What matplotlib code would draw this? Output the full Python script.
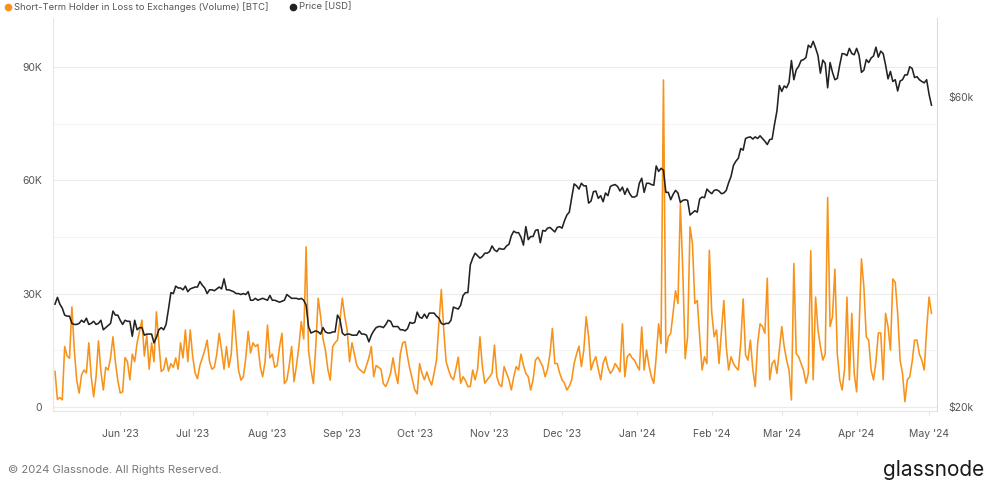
import pandas as pd
import matplotlib
matplotlib.use('Agg')
import matplotlib.pyplot as plt
from matplotlib.lines import Line2D
from matplotlib.ticker import FixedLocator, NullFormatter

plt.rcParams['font.family'] = ['Inter', 'DejaVu Sans']

# === Data (daily values)
start_date = '2023-05-05'

# Short-Term Holder in Loss to Exchanges, thousands of BTC
stlh_volume_k = [
    9.4, 2.0, 2.5, 1.9, 16.0, 13.5, 12.9, 26.5, 15.0, 7.0, 3.7, 8.5, 9.8, 9.0, 17.0, 8.0, 2.7, 8.0, 17.5, 9.5, 4.5, 10.5, 9.8, 13.0, 18.6, 12.0, 7.0, 3.7,
    4.0, 13.1, 12.0, 7.2, 14.0, 12.0, 17.0, 20.0, 23.0, 13.5, 19.0, 10.0, 17.0, 12.0, 25.2, 17.0, 9.4, 10.0, 13.0, 9.5, 11.5, 10.5, 13.0, 10.0, 17.0, 13.0, 20.4, 12.0, 20.4,
    13.5, 9.0, 7.5, 11.0, 13.0, 15.0, 17.7, 12.0, 10.0, 10.5, 14.0, 19.5, 15.0, 10.0, 16.0, 10.5, 14.0, 25.6, 17.7, 9.8, 7.1, 8.0, 13.0, 20.0, 14.3, 17.0, 16.0, 16.6, 10.7, 8.0, 12.0,
    21.7, 13.0, 14.0, 10.5, 11.0, 16.0, 19.5, 6.2, 7.1, 11.0, 16.0, 6.7, 11.0, 16.0, 22.6, 18.0, 42.4, 15.0, 10.0, 6.2, 16.0, 28.8, 24.0, 18.0, 15.0, 10.0, 7.1, 16.0, 17.0, 17.7, 23.0,
    28.8, 24.0, 20.4, 12.0, 17.0, 14.0, 11.0, 10.0, 9.5, 9.0, 11.0, 13.0, 16.0, 8.0, 11.0, 10.5, 10.0, 6.2, 5.4, 7.0, 9.0, 13.0, 9.0, 6.2, 14.0, 17.0, 17.3, 13.3, 10.0, 7.2,
    4.5, 3.5, 11.5, 8.9, 7.2, 9.3, 7.2, 5.8, 9.0, 12.4, 22.1, 31.1, 20.4, 12.0, 9.8, 8.0, 7.2, 10.0, 13.2, 6.3, 8.0, 7.0, 5.4, 5.4, 9.8, 7.2, 10.0, 18.6, 10.7, 6.3, 7.2,
    8.0, 9.0, 16.4, 8.0, 6.0, 5.4, 10.7, 9.0, 7.2, 4.5, 8.0, 10.7, 9.8, 14.0, 11.0, 8.9, 8.0, 4.5, 7.2, 12.4, 13.2, 12.0, 10.7, 8.0, 10.0, 14.1, 20.8, 11.5, 11.5,
    9.0, 7.2, 6.3, 4.5, 5.5, 7.2, 11.5, 14.0, 16.1, 10.7, 15.0, 23.9, 18.6, 9.8, 12.0, 13.3, 10.0, 7.2, 11.5, 13.3, 10.5, 8.9, 9.8, 11.5, 10.5, 9.3, 22.0, 8.0, 13.3, 14.1, 13.0,
    12.4, 11.0, 9.8, 21.2, 9.8, 15.1, 11.0, 8.0, 6.3, 13.3, 22.0, 16.8, 86.6, 14.3, 18.6, 19.5, 25.0, 30.8, 27.4, 53.8, 36.2, 12.8, 18.6, 47.7, 43.3, 27.4, 28.2, 18.6, 9.8, 13.3, 11.5,
    41.5, 25.0, 18.6, 20.4, 11.5, 20.0, 28.2, 16.0, 9.8, 13.3, 11.5, 10.5, 9.8, 16.8, 28.6, 13.8, 12.4, 17.7, 10.0, 5.4, 16.8, 22.0, 21.3, 19.5, 34.1, 7.2, 11.5, 12.4, 8.9,
    15.1, 21.3, 16.0, 12.4, 9.8, 1.85, 38.0, 14.1, 13.3, 11.5, 9.8, 6.3, 8.9, 41.4, 7.2, 29.1, 20.4, 16.0, 12.4, 14.0, 55.5, 21.3, 23.9, 36.5, 14.1, 7.2, 4.5, 10.0, 29.1, 7.2, 24.8,
    8.9, 4.0, 20.0, 39.2, 31.8, 18.6, 17.7, 9.8, 7.2, 12.0, 19.6, 19.6, 7.2, 24.8, 21.3, 15.1, 33.9, 33.0, 24.8,
    12.4, 8.9, 1.4, 7.2, 8.0, 12.0, 17.7, 17.7, 14.0, 12.4, 9.8, 20.4, 29.1, 24.8,
]

# BTC price, thousands of USD
price_k = [
    28.8, 29.5, 28.8, 28.4, 27.7, 27.6, 27.6, 26.9, 26.8, 26.8, 26.9, 27.2, 27.0, 27.4, 26.8, 26.9, 27.1, 26.8, 26.9, 27.2, 26.3, 26.5, 26.7, 26.9, 28.1, 27.7, 27.7, 27.2,
    26.8, 27.2, 27.1, 27.1, 25.7, 27.2, 26.3, 26.5, 26.5, 25.8, 25.9, 25.9, 25.9, 25.1, 25.6, 26.3, 26.5, 26.3, 26.8, 28.3, 30.0, 29.9, 30.7, 30.5, 30.5, 30.3, 30.7, 30.1, 30.4, 30.5,
    30.6, 30.6, 31.2, 30.8, 30.5, 29.9, 30.3, 30.3, 30.2, 30.4, 30.6, 30.4, 31.5, 30.3, 30.3, 30.2, 30.1, 29.9, 29.9, 29.8, 29.9, 29.8, 30.1, 29.2, 29.2, 29.4, 29.2, 29.3, 29.4, 29.3, 29.2,
    29.7, 29.2, 29.2, 29.1, 29.0, 29.1, 29.2, 29.8, 29.6, 29.4, 29.4, 29.4, 29.3, 29.4, 29.2, 28.7, 26.6, 26.0, 26.1, 26.2, 26.1, 25.9, 26.5, 26.1, 26.0, 26.0, 26.1, 26.1, 27.7, 27.3, 26.0,
    25.8, 25.9, 25.9, 25.8, 25.8, 25.8, 26.2, 25.9, 25.9, 25.8, 25.2, 25.8, 26.2, 26.5, 26.6, 26.6, 26.5, 26.8, 27.2, 27.1, 26.6, 26.6, 26.6, 26.3, 26.3, 26.2, 26.4, 27.0, 26.9, 27.0,
    28.0, 27.5, 27.4, 27.8, 27.4, 27.9, 27.9, 27.9, 27.6, 27.4, 26.9, 26.8, 26.9, 26.9, 27.2, 28.5, 28.4, 28.3, 28.7, 29.7, 30.0, 30.0, 33.1, 33.9, 34.5, 34.2, 33.9, 34.1, 34.5, 34.5, 34.7,
    35.4, 34.9, 34.7, 35.1, 35.0, 35.0, 35.4, 35.6, 36.7, 37.3, 37.1, 37.1, 36.5, 35.5, 37.9, 36.2, 36.6, 36.6, 37.4, 37.5, 35.8, 37.4, 37.3, 37.7, 37.8, 37.5, 37.2, 37.8, 37.9, 37.7,
    38.7, 39.5, 39.9, 42.0, 44.1, 43.8, 43.3, 44.2, 43.8, 43.8, 41.2, 41.5, 42.9, 43.0, 41.9, 42.3, 41.4, 42.7, 42.3, 43.7, 43.9, 44.0, 43.7, 43.0, 43.6, 42.5, 43.4, 42.6, 42.1, 42.1, 42.3,
    44.2, 45.0, 42.8, 44.2, 44.2, 44.0, 43.9, 47.0, 46.1, 46.6, 46.3, 42.8, 42.8, 41.7, 42.5, 43.1, 42.7, 41.3, 41.6, 41.7, 41.6, 39.5, 39.8, 40.1, 39.9, 41.8, 42.1, 42.0, 43.3, 42.9, 42.6,
    43.1, 43.2, 43.0, 42.6, 42.7, 43.1, 44.3, 45.3, 47.1, 47.8, 48.3, 50.0, 49.7, 51.8, 52.0, 52.1, 51.7, 52.1, 51.8, 52.3, 51.8, 51.3, 50.7, 51.6, 51.7, 54.5, 57.1, 62.5, 61.2,
    62.4, 62.0, 63.2, 68.3, 63.8, 66.1, 66.9, 68.3, 68.5, 69.0, 72.1, 71.5, 73.1, 71.4, 69.5, 65.3, 68.4, 67.6, 62.0, 67.8, 65.5, 63.8, 64.1, 67.2, 70.0, 69.9, 69.5, 71.3, 70.0, 69.7, 71.3,
    69.6, 65.5, 66.0, 68.5, 67.8, 68.9, 69.4, 71.6, 69.1, 70.6, 70.0, 67.2, 64.0, 65.7, 63.4, 63.8, 61.3, 63.5, 63.8, 64.9, 64.9, 66.8, 66.4, 64.3, 64.5, 63.8, 63.4, 63.1, 63.8, 60.6,
    58.3,
]

month_ticks = pd.date_range('2023-06-01', '2024-05-01', freq='MS')
month_labels = [d.strftime("%b '%y") for d in month_ticks]
left_ticks = [0, 30, 60, 90]
left_labels = ['0', '30K', '60K', '90K']
right_ticks = [20, 60]
right_labels = ['$20k', '$60k']

orange = '#f7931a'
dark = '#222222'
dates = pd.date_range(start_date, periods=len(price_k), freq='D')

# === Figure
fig = plt.figure(figsize=(9.87, 4.9), dpi=100)
ax = fig.add_axes([53 / 987, 79 / 490, 884 / 987, 393 / 490])
ax2 = ax.twinx()

ax.plot(dates, stlh_volume_k, color=orange, lw=1.15)
ax2.plot(dates, price_k, color=dark, lw=1.15)

ax.set_xlim(pd.Timestamp('2023-05-04 04:00'), pd.Timestamp('2024-05-04 07:00'))
ax.set_ylim(-1.06, 103)
ax2.set_yscale('log')
ax2.set_ylim(19.72, 79.4)

# left axis
ax.yaxis.set_major_locator(FixedLocator(left_ticks))
ax.set_yticklabels(left_labels)
ax.yaxis.set_minor_locator(FixedLocator([15, 45, 75]))
ax.yaxis.set_minor_formatter(NullFormatter())
ax.tick_params(axis='y', which='both', length=0, pad=8, labelsize=7.5, labelcolor='#555555')
ax.grid(axis='y', which='major', color='#ececec', lw=0.8)
ax.grid(axis='y', which='minor', color='#f4f4f4', lw=0.8)
ax.set_axisbelow(True)

# right axis
ax2.yaxis.set_major_locator(FixedLocator(right_ticks))
ax2.yaxis.set_minor_locator(FixedLocator([]))
ax2.set_yticklabels(right_labels)
ax2.tick_params(axis='y', which='both', length=0, pad=8, labelsize=7.5, labelcolor='#555555')

# x axis
ax.set_xticks(month_ticks)
ax.set_xticklabels(month_labels)
ax.tick_params(axis='x', length=3, width=0.8, color='#e4e4e4', pad=10, labelsize=7.5, labelcolor='#555555')

for a in (ax, ax2):
    a.spines['top'].set_visible(False)
ax.spines['right'].set_visible(False)
ax.spines['left'].set_color('#fbe2cc')
ax.spines['bottom'].set_color('#e6e6e6')
ax2.spines['left'].set_visible(False)
ax2.spines['bottom'].set_visible(False)
ax2.spines['right'].set_color('#dcdcdc')

# === Legend
fig.add_artist(Line2D([8 / 987], [1 - 7 / 490], marker='o', markersize=4.5, color=orange,
                      linestyle='none', transform=fig.transFigure))
fig.text(14 / 987, 1 - 7 / 490, 'Short-Term Holder in Loss to Exchanges (Volume) [BTC]',
         fontsize=6.8, color='#555555', va='center')
fig.add_artist(Line2D([293 / 987], [1 - 7 / 490], marker='o', markersize=4.5, color=dark,
                      linestyle='none', transform=fig.transFigure))
fig.text(299 / 987, 1 - 7 / 490, 'Price [USD]', fontsize=6.8, color='#555555', va='center')

# === Footer
fig.text(8 / 987, 1 - 470 / 490, '\u00a9 2024 Glassnode. All Rights Reserved.',
         fontsize=8.1, color='#777777', va='center')
fig.text(984 / 987, 1 - 470 / 490, 'glassnode', fontsize=15, color='#1a1a1a',
         ha='right', va='center')

fig.savefig('out.png', dpi=100)
plt.close(fig)
